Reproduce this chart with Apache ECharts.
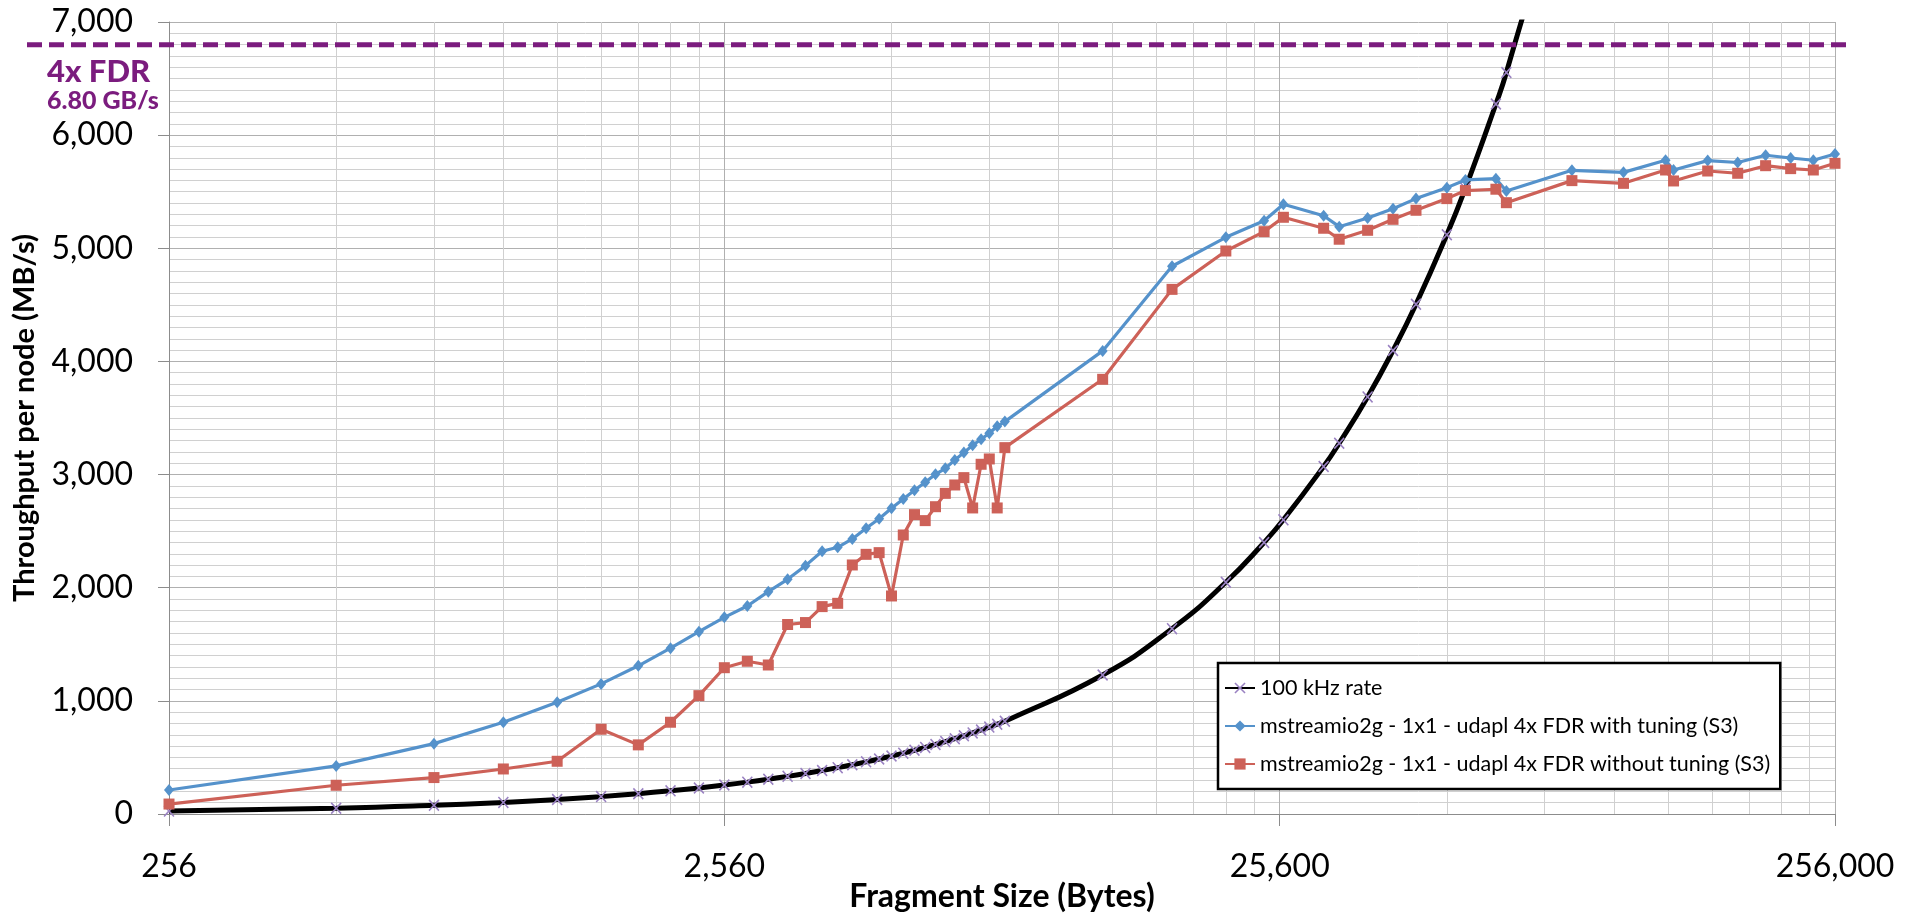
<!DOCTYPE html>
<html><head><meta charset="utf-8">
<script src="https://cdn.jsdelivr.net/npm/echarts@6/dist/echarts.min.js"></script>
<style>html,body{margin:0;padding:0;background:#fff}#c{width:1905px;height:917px}</style>
</head><body><div id="c"></div>
<script>
// Fragment sizes in bytes
const fragmentSizes = [256, 512, 768, 1024, 1280, 1536, 1792, 2048, 2304, 2560, 2816, 3072, 3328, 3584, 3840, 4096,
  4352, 4608, 4864, 5120, 5376, 5632, 5888, 6144, 6400, 6656, 6912, 7168, 7424, 7680, 7936, 8192,
  12288, 16384, 20480, 24000, 26000, 30720, 32768, 36864, 40960, 45056, 51200, 55296, 62750, 65536,
  86000, 106500, 126800, 131072, 151000, 171000, 192000, 213000, 234000, 256000];
// 100 kHz rate (MB/s)
const rate100k = [25.6, 51.2, 76.8, 102.4, 128, 153.6, 179.2, 204.8, 230.4, 256, 281.6, 307.2, 332.8, 358.4, 384, 409.6,
  435.2, 460.8, 486.4, 512, 537.6, 563.2, 588.8, 614.4, 640, 665.6, 691.2, 716.8, 742.4, 768, 793.6, 819.2,
  1228.8, 1638.4, 2048, 2400, 2600, 3072, 3276.8, 3686.4, 4096, 4505.6, 5120, 5529.6, 6275, 6553.6,
  8600, 10650, 12680, 13107.2, 15100, 17100, 19200, 21300, 23400, 25600];
// with tuning (MB/s)
const withTuning = [212, 425, 622, 811, 988, 1150, 1310, 1466, 1611, 1738, 1838, 1965, 2074, 2195, 2322, 2357,
  2431, 2525, 2610, 2702, 2784, 2861, 2932, 3002, 3055, 3129, 3194, 3259, 3312, 3365, 3427, 3468,
  4093, 4841, 5097, 5244, 5389, 5288, 5191, 5268, 5350, 5439, 5536, 5604, 5615, 5507,
  5689, 5671, 5778, 5692, 5775, 5758, 5822, 5798, 5778, 5833];
// without tuning (MB/s)
const withoutTuning = [88, 254, 322, 398, 466, 749, 611, 811, 1046, 1293, 1350, 1317, 1675, 1692, 1833, 1862,
  2201, 2295, 2310, 1927, 2466, 2646, 2593, 2716, 2834, 2908, 2973, 2705, 3091, 3138, 2705, 3238,
  3842, 4637, 4976, 5147, 5274, 5177, 5080, 5159, 5256, 5336, 5439, 5510, 5522, 5403,
  5598, 5574, 5692, 5595, 5683, 5663, 5730, 5704, 5692, 5751];
const seriesNames = ['100 kHz rate',
  'mstreamio2g - 1x1 - udapl 4x FDR with tuning (S3)',
  'mstreamio2g - 1x1 - udapl 4x FDR without tuning (S3)'];
const xTickLabels = ['256', '2,560', '25,600', '256,000'];
const yTickLabels = ['0', '1,000', '2,000', '3,000', '4,000', '5,000', '6,000', '7,000'];
const minorFactors = [2, 3, 4, 5, 6, 7, 8, 9];
const fdrLimit = 6800;
const fdrLabel = '4x FDR';
const fdrSubLabel = '6.80 GB/s';

const unit = 256; // x axis measured in units of 256 bytes
const toPairs = vals => fragmentSizes.map((s, i) => [s / unit, vals[i]]);
const minorX = [];
[1, 10, 100].forEach(d => minorFactors.forEach(f => minorX.push(d * f)));

const xPath = 'path://M1,0L5,4L9,0L10,1L6,5L10,9L9,10L5,6L1,10L0,9L4,5L0,1Z';
const font = 'Lato';

const chart = echarts.init(document.getElementById('c'));
const option = {
  animation: false,
  backgroundColor: '#fff',
  grid: { left: 169, right: 70, top: 22, bottom: 103, containLabel: false, outerBoundsMode: 'none' },
  xAxis: {
    type: 'log', logBase: 10, min: 1, max: 1000,
    name: 'Fragment Size (Bytes)', nameLocation: 'middle', nameGap: 67, nameMoveOverlap: false,
    nameTextStyle: { fontFamily: font, fontWeight: 'bold', fontSize: 32, color: '#000' },
    axisLine: { show: true, onZero: false, lineStyle: { color: '#8c8c8c', width: 1 } },
    axisTick: { show: true, length: 12, lineStyle: { color: '#8c8c8c' } },
    axisLabel: {
      margin: 37, fontFamily: font, fontSize: 32, color: '#000',
      formatter: v => xTickLabels[Math.round(Math.log10(v))]
    },
    splitLine: { show: true, lineStyle: { color: '#b0b0b0', width: 1 } },
    minorTick: { show: false }, minorSplitLine: { show: false }
  },
  yAxis: {
    type: 'value', min: 0, max: 7000, interval: 1000,
    name: 'Throughput per node (MB/s)', nameLocation: 'middle', nameGap: 130, nameRotate: 90, nameMoveOverlap: false,
    nameTextStyle: { fontFamily: font, fontWeight: 'bold', fontSize: 29, color: '#000' },
    axisLine: { show: true, lineStyle: { color: '#8c8c8c', width: 1 } },
    axisTick: { show: true, length: 11, lineStyle: { color: '#8c8c8c' } },
    axisLabel: {
      margin: 36, fontFamily: font, fontSize: 32, color: '#000',
      formatter: v => yTickLabels[Math.round(v / 1000)]
    },
    splitLine: { show: true, lineStyle: { color: '#b0b0b0', width: 1 } },
    minorTick: { show: false, splitNumber: 10 },
    minorSplitLine: { show: true, lineStyle: { color: '#d0d0d0', width: 1 } }
  },
  legend: {
    data: seriesNames, orient: 'vertical', left: 1218, top: 663,
    padding: [13, 10, 13, 6], itemGap: 14, itemWidth: 30, itemHeight: 14,
    borderColor: '#000', borderWidth: 2.5, backgroundColor: '#fff', borderRadius: 0,
    textStyle: { fontFamily: font, fontSize: 21.5, color: '#000', lineHeight: 24 }
  },
  series: [
    {
      name: '_minor', type: 'line', data: [], z: 1, silent: true,
      markLine: {
        silent: true, z: 1, symbol: ['none', 'none'], animation: false,
        label: { show: false }, emphasis: { disabled: true },
        lineStyle: { color: '#d0d0d0', width: 1, type: 'solid' },
        data: minorX.map(v => ({ xAxis: v }))
      }
    },
    {
      name: seriesNames[0], type: 'line', data: toPairs(rate100k), smooth: true, clip: true,
      symbol: xPath, symbolSize: [11, 12], showSymbol: true, z: 3,
      lineStyle: { color: '#000', width: 5 },
      itemStyle: { color: '#9a82c2' }
    },
    {
      name: seriesNames[1], type: 'line', data: toPairs(withTuning), clip: true,
      symbol: 'diamond', symbolSize: [10, 12], z: 4,
      lineStyle: { color: '#5592cb', width: 3.2 },
      itemStyle: { color: '#5592cb' }
    },
    {
      name: seriesNames[2], type: 'line', data: toPairs(withoutTuning), clip: true,
      symbol: 'rect', symbolSize: 11, z: 5,
      lineStyle: { color: '#cd6158', width: 3.2 },
      itemStyle: { color: '#cd6158' }
    }
  ]
};
chart.setOption(option);
const yFdr = chart.convertToPixel({ yAxisIndex: 0 }, fdrLimit);
chart.setOption({
  graphic: [
    { type: 'line', silent: true, z: 10,
      shape: { x1: 27, y1: yFdr, x2: 1852, y2: yFdr },
      style: { stroke: '#7b1c7e', lineWidth: 5, lineDash: [15, 7] } },
    { type: 'text', silent: true, z: 10, x: 47, y: yFdr + 27,
      style: { text: fdrLabel, font: '900 31px Lato', fill: '#7b1c7e', verticalAlign: 'middle' } },
    { type: 'text', silent: true, z: 10, x: 47, y: yFdr + 56,
      style: { text: fdrSubLabel, font: '900 25px Lato', fill: '#7b1c7e', verticalAlign: 'middle' } }
  ]
});
</script>
</body></html>
